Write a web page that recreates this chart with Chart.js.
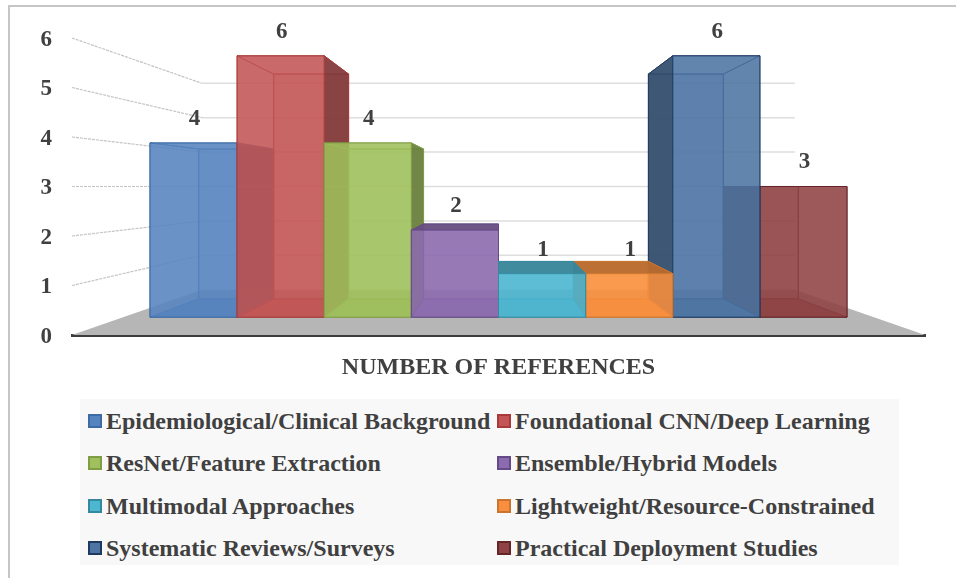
<!DOCTYPE html>
<html>
<head>
<meta charset="utf-8">
<script src="https://cdn.jsdelivr.net/npm/chart.js@4/dist/chart.umd.min.js"></script>
<style>
    html, body { margin: 0; background: #fff; }
    #wrap { position: relative; width: 956px; height: 578px; overflow: hidden; }
    #frame { position: absolute; left: 8px; top: 5px; right: 0; bottom: 0; border-top: 2px solid #c6c6c6; border-left: 2px solid #c6c6c6; }
    canvas { position: absolute; left: 0; top: 0; }
    #legend {
        position: absolute; left: 80px; top: 399px; width: 819px; height: 166px;
        background: #f8f8f8; font: bold 24px "Liberation Serif", serif; color: #404040;
    }
    .item { position: absolute; white-space: nowrap; line-height: 24px; padding-left: 26px; }
    .swatch { position: absolute; left: 8px; top: 5px; width: 10px; height: 10px; border-width: 2px; border-style: solid; }
</style>
</head>
<body>
<div id="wrap">
    <div id="frame"></div>
    <canvas id="refsChart" width="956" height="578"></canvas>
    <div id="legend"></div>
</div>
<script>
const categories = ['NUMBER OF REFERENCES'];
const seriesNames = [
    'Epidemiological/Clinical Background',
    'Foundational CNN/Deep Learning',
    'ResNet/Feature Extraction',
    'Ensemble/Hybrid Models',
    'Multimodal Approaches',
    'Lightweight/Resource-Constrained',
    'Systematic Reviews/Surveys',
    'Practical Deployment Studies'
];
const seriesValues = [4, 6, 4, 2, 1, 1, 6, 3];
const seriesColors = ['#5684bf', '#c35555', '#9fc05c', '#8c6baf', '#4db6d0', '#f98f3c', '#4d74a3', '#8f4243'];
const edgeColors = ['#3c6ba5', '#a83a3a', '#7f9d45', '#644a86', '#35899e', '#c9752f', '#1f3a5f', '#652628'];
const tickValues = [0, 1, 2, 3, 4, 5, 6];

// depth of each plane, 1 = the axis plane
const BAR_FRONT = 0.88;
const BAR_BACK = 0.757;
const WALL = 0.695;

const FONT = '"Liberation Serif", serif';

function rgba(hex, alpha, k = 1) {
    const n = parseInt(hex.slice(1), 16);
    const c = [n >> 16, (n >> 8) & 255, n & 255].map(v => Math.round(v * k));
    return `rgba(${c[0]},${c[1]},${c[2]},${alpha})`;
}

function poly(ctx, pts, fill, stroke) {
    ctx.beginPath();
    pts.forEach((p, i) => i ? ctx.lineTo(p[0], p[1]) : ctx.moveTo(p[0], p[1]));
    ctx.closePath();
    if (fill) { ctx.fillStyle = fill; ctx.fill(); }
    if (stroke) { ctx.strokeStyle = stroke; ctx.lineWidth = 1; ctx.stroke(); }
}

const perspective = {
    id: 'perspective',
    beforeDatasetsDraw(chart) {
        const { ctx, chartArea: area, scales } = chart;
        const vx = (area.left + area.right) / 2;
        const vy = scales.y.getPixelForValue(3);
        const project = (x, y, d) => [vx + (x - vx) * d, vy + (y - vy) * d];
        const y0 = scales.y.getPixelForValue(0);

        ctx.save();
        // floor
        poly(ctx, [
            [area.left, y0], [area.right, y0],
            project(area.right, y0, WALL), project(area.left, y0, WALL)
        ], '#b6b6b6');

        // side wall and back wall gridlines
        tickValues.slice(1).forEach(v => {
            const y = scales.y.getPixelForValue(v);
            const corner = project(area.left, y, WALL);
            const end = project(area.right, y, WALL);
            ctx.lineWidth = 1.2;
            ctx.strokeStyle = '#c4c4c4';
            ctx.setLineDash([3, 1]);
            ctx.beginPath();
            ctx.moveTo(area.left, y);
            ctx.lineTo(corner[0], corner[1]);
            ctx.stroke();
            ctx.setLineDash([]);
            ctx.strokeStyle = '#dedede';
            ctx.lineWidth = 1.5;
            ctx.beginPath();
            ctx.moveTo(corner[0], corner[1]);
            ctx.lineTo(end[0], end[1]);
            ctx.stroke();
        });

        // outer bars first, so the ones nearer the middle sit over their side faces
        const count = chart.data.datasets.length;
        const order = [];
        for (let i = 0; i < count / 2; i++) order.push(i, count - 1 - i);

        order.forEach(i => {
            const bar = chart.getDatasetMeta(i).data[0];
            const left = bar.x - bar.width / 2, right = bar.x + bar.width / 2;
            const color = seriesColors[i], edge = rgba(edgeColors[i], 0.9);
            const f = (x, y) => project(x, y, BAR_FRONT);
            const b = (x, y) => project(x, y, BAR_BACK);
            const leftOfCentre = bar.x < vx;
            // a lid above eye level is only seen through the front
            const lidVisible = bar.y > vy;

            poly(ctx, [b(left, bar.y), b(right, bar.y), b(right, bar.base), b(left, bar.base)], rgba(color, 0.35), edge);
            poly(ctx, [f(left, bar.base), f(right, bar.base), b(right, bar.base), b(left, bar.base)], rgba(color, 0.8, 0.95), edge);
            // far side, seen through the front
            const farX = leftOfCentre ? left : right;
            poly(ctx, [f(farX, bar.y), b(farX, bar.y), b(farX, bar.base), f(farX, bar.base)], rgba(color, 0.15), edge);
            poly(ctx, [f(left, bar.y), f(right, bar.y), b(right, bar.y), b(left, bar.y)],
                lidVisible ? rgba(color, 0.95, 0.74) : rgba(color, 0.15), edge);
            // near side, facing the middle of the chart
            const nearX = leftOfCentre ? right : left;
            poly(ctx, [f(nearX, bar.y), b(nearX, bar.y), b(nearX, bar.base), f(nearX, bar.base)], rgba(color, 0.92, 0.66), edge);
            poly(ctx, [f(left, bar.y), f(right, bar.y), f(right, bar.base), f(left, bar.base)], rgba(color, 0.86), edge);
        });

        // value labels
        ctx.font = `bold 23px ${FONT}`;
        ctx.fillStyle = '#404040';
        ctx.textAlign = 'center';
        ctx.textBaseline = 'middle';
        chart.data.datasets.forEach((ds, i) => {
            const bar = chart.getDatasetMeta(i).data[0];
            const p = project(bar.x, bar.y, BAR_FRONT);
            ctx.fillText(ds.data[0], p[0] + 1, p[1] - 24);
        });
        ctx.restore();

        // the bars are all painted above
        return false;
    }
};

const chart = new Chart(document.getElementById('refsChart'), {
    type: 'bar',
    data: {
        labels: categories,
        datasets: seriesNames.map((name, i) => ({
            label: name,
            data: [seriesValues[i]],
            backgroundColor: seriesColors[i],
            borderColor: edgeColors[i],
            categoryPercentage: 0.9286,
            barPercentage: 1
        }))
    },
    options: {
        responsive: false,
        animation: false,
        layout: { padding: { top: 38, right: 31, bottom: 0, left: 0 } },
        plugins: { legend: { display: false }, tooltip: { enabled: false } },
        scales: {
            x: {
                grid: { display: false, drawTicks: false },
                border: { color: '#3c3c3c', width: 3 },
                ticks: { color: '#404040', padding: 18, font: { family: FONT, size: 24, weight: 'bold' } },
                afterFit: (scale) => { scale.height = 243; }
            },
            y: {
                min: 0,
                max: 6,
                grid: { display: false, drawTicks: false },
                border: { display: false },
                ticks: { stepSize: 1, color: '#404040', padding: 20, labelOffset: 2, font: { family: FONT, size: 23, weight: 'bold' } },
                afterFit: (scale) => { scale.width = 72; }
            }
        }
    },
    plugins: [perspective]
});

// legend laid out in two fixed columns
const legendBox = document.getElementById('legend');
Chart.defaults.plugins.legend.labels.generateLabels(chart).forEach((item, i) => {
    const row = document.createElement('div');
    row.className = 'item';
    row.style.left = (i % 2 ? 409 : 0) + 'px';
    row.style.top = (10 + Math.floor(i / 2) * 42.4) + 'px';
    row.textContent = item.text;
    const swatch = document.createElement('span');
    swatch.className = 'swatch';
    swatch.style.background = item.fillStyle;
    swatch.style.borderColor = item.strokeStyle;
    row.prepend(swatch);
    legendBox.appendChild(row);
});
</script>
</body>
</html>
